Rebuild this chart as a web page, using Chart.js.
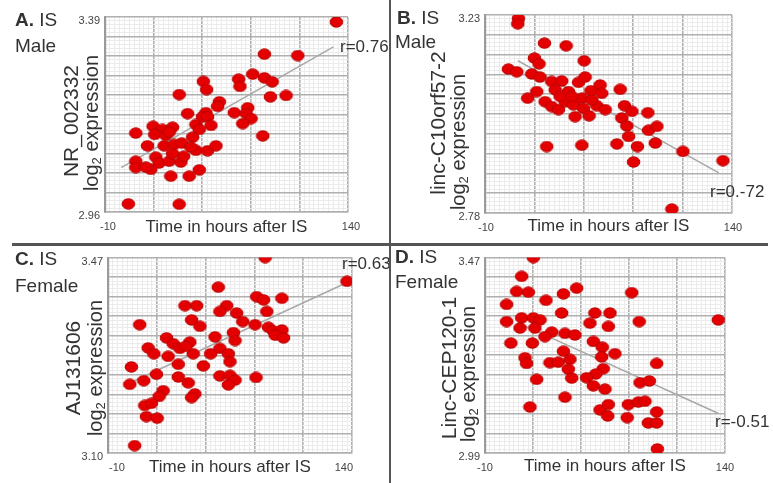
<!DOCTYPE html>
<html><head><meta charset="utf-8">
<script src="https://cdn.jsdelivr.net/npm/chart.js@4.4.0/dist/chart.umd.min.js"></script>
<style>
html,body{margin:0;padding:0;background:#fff;}
#wrap{position:relative;width:773px;height:483px;overflow:hidden;background:#fff;font-family:"Liberation Sans",Arial,sans-serif;color:#333;}
.pane{position:absolute;}
.pane canvas{display:block;}
.lbl{position:absolute;white-space:nowrap;line-height:22px;height:22px;}
.rot{position:absolute;white-space:nowrap;transform:translate(-50%,-50%) rotate(-90deg);line-height:1;}
.rot sub{font-size:65%;vertical-align:-0.25em;line-height:0;}
.sep{position:absolute;background:#555;z-index:5;}
</style></head><body>
<div id="wrap"></div>
<script>
// ---------- DATA ----------
const xTickLabels = ['-10', '140'];
const xTitle = 'Time in hours after IS';

// A. IS Male  — NR_002332
const aYTickLabels = ['2.96', '3.39'];
const aTime = [132.8, 88.4, 109.0, 81.2, 88.4, 93.2, 72.5, 73.3, 50.7, 52.7, 35.8, 92.1, 101.8, 60.6, 59.5, 41.0, 52.3, 50.2, 53.3, 69.8, 78.1, 77.1, 80.2, 75.0, 46.1, 48.2, 55.4, 19.7, 25.5, 31.7, 9.0, 20.7, 27.5, 29.6, 44.1, 87.4, 16.2, 26.5, 32.7, 37.4, 46.1, 53.3, 58.5, 21.4, 9.0, 23.4, 29.6, 36.8, 38.5, 9.0, 18.3, 48.2, 30.6, 42.0, 4.4, 35.8, 15.2, 31.7, 43.0];
const aExpr = [3.379, 3.308, 3.305, 3.264, 3.256, 3.247, 3.253, 3.237, 3.248, 3.230, 3.219, 3.214, 3.217, 3.203, 3.193, 3.177, 3.179, 3.170, 3.170, 3.179, 3.190, 3.177, 3.166, 3.155, 3.153, 3.142, 3.151, 3.149, 3.142, 3.147, 3.134, 3.131, 3.129, 3.136, 3.125, 3.128, 3.106, 3.106, 3.109, 3.112, 3.096, 3.095, 3.106, 3.081, 3.072, 3.068, 3.072, 3.070, 3.083, 3.058, 3.054, 3.053, 3.039, 3.039, 2.978, 2.977, 3.059, 3.089, 3.103];
const aFitTime = [0, 131];
const aFitExpr = [3.058, 3.324];

// B. IS Male — linc-C10orf57-2
const bYTickLabels = ['2.78', '3.23'];
const bTime = [10.3, 9.9, 26.1, 39.3, 20.0, 22.8, 50.2, 4.2, 9.3, 18.4, 23.4, 30.5, 36.6, 46.8, 50.8, 59.9, 21.4, 15.9, 32.6, 40.7, 54.3, 60.9, 72.1, 26.5, 30.5, 34.6, 38.6, 43.7, 48.8, 44.7, 49.8, 53.2, 57.9, 63.0, 74.7, 79.2, 88.9, 73.1, 76.1, 89.3, 94.4, 77.2, 70.1, 82.6, 93.4, 27.5, 48.8, 80.2, 110.2, 134.5, 103.5, 35.6, 42.7, 54.9];
const bExpr = [3.222, 3.210, 3.166, 3.160, 3.132, 3.119, 3.126, 3.107, 3.101, 3.096, 3.089, 3.079, 3.080, 3.077, 3.089, 3.071, 3.056, 3.041, 3.060, 3.056, 3.058, 3.052, 3.061, 3.033, 3.022, 3.015, 3.033, 3.026, 3.041, 2.999, 3.018, 3.001, 3.024, 3.015, 3.024, 3.011, 3.008, 2.996, 2.978, 2.968, 2.977, 2.954, 2.937, 2.931, 2.939, 2.931, 2.934, 2.896, 2.920, 2.899, 2.789, 3.045, 3.045, 3.037];
const bFitTime = [10, 132];
const bFitExpr = [3.126, 2.871];

// C. IS Female — AJ131606
const cYTickLabels = ['3.10', '3.47'];
const cTime = [86.6, 136.9, 57.8, 81.4, 85.6, 96.9, 37.3, 44.5, 63.0, 58.8, 69.1, 87.6, 9.5, 41.4, 46.5, 72.8, 80.4, 88.6, 91.7, 96.9, 92.8, 97.9, 67.1, 68.1, 55.8, 26.0, 30.1, 14.7, 18.2, 34.2, 40.3, 42.4, 27.0, 53.1, 58.8, 64.0, 4.4, 33.2, 48.6, 65.0, 3.4, 12.0, 19.8, 33.2, 39.3, 58.8, 65.0, 68.1, 64.0, 81.0, 23.9, 21.4, 43.4, 41.4, 12.6, 16.7, 13.6, 20.2, 6.4, 37.9];
const cExpr = [3.470, 3.425, 3.414, 3.396, 3.390, 3.393, 3.379, 3.379, 3.379, 3.368, 3.365, 3.368, 3.343, 3.352, 3.340, 3.349, 3.343, 3.338, 3.331, 3.333, 3.323, 3.318, 3.328, 3.313, 3.320, 3.318, 3.307, 3.299, 3.288, 3.298, 3.310, 3.288, 3.283, 3.288, 3.298, 3.288, 3.263, 3.268, 3.265, 3.273, 3.230, 3.237, 3.249, 3.244, 3.233, 3.246, 3.247, 3.238, 3.229, 3.243, 3.218, 3.207, 3.212, 3.205, 3.190, 3.194, 3.169, 3.166, 3.114, 3.302];
const cFitTime = [5, 135];
const cFitExpr = [3.235, 3.420];

// D. IS Female — Linc-CEP120-1
const dYTickLabels = ['2.99', '3.47'];
const dTime = [20.2, 12.9, 9.8, 17.1, 47.3, 39.0, 81.7, 3.5, 28.1, 3.5, 12.9, 20.2, 24.4, 11.9, 21.2, 37.9, 58.7, 68.1, 55.6, 67.1, 86.4, 135.8, 31.7, 27.5, 40.0, 46.2, 6.2, 19.6, 57.7, 63.3, 39.0, 43.1, 15.0, 16.0, 30.6, 35.8, 71.2, 62.9, 42.1, 44.2, 63.9, 59.2, 53.5, 57.7, 65.0, 22.3, 40.0, 18.1, 97.3, 86.9, 92.7, 79.6, 85.8, 90.0, 61.9, 67.1, 66.7, 78.9, 97.3, 92.1, 97.3, 97.7];
const dExpr = [3.470, 3.424, 3.387, 3.385, 3.395, 3.381, 3.384, 3.355, 3.365, 3.313, 3.322, 3.322, 3.317, 3.297, 3.297, 3.334, 3.334, 3.334, 3.309, 3.301, 3.313, 3.317, 3.287, 3.276, 3.284, 3.280, 3.260, 3.260, 3.264, 3.250, 3.240, 3.220, 3.224, 3.210, 3.212, 3.213, 3.234, 3.226, 3.196, 3.174, 3.197, 3.184, 3.175, 3.155, 3.147, 3.171, 3.127, 3.103, 3.210, 3.163, 3.167, 3.109, 3.115, 3.117, 3.096, 3.109, 3.081, 3.077, 3.091, 3.064, 3.064, 3.000];
const dFitTime = [11, 136];
const dFitExpr = [3.309, 3.087];

// ---------- LAYOUT / STYLE ----------
const panels = [
  {box:[0,0,390,243], pad:{left:0,top:17,right:42,bottom:5}, yW:105, xH:26, xAlign:'center', xOff:3,
   time:aTime, expr:aExpr, fitT:aFitTime, fitE:aFitExpr, yLab:aYTickLabels},
  {box:[392,0,381,243], pad:{left:0,top:15,right:41,bottom:6}, yW:93, xH:24, xAlign:'center', xOff:1,
   time:bTime, expr:bExpr, fitT:bFitTime, fitE:bFitExpr, yLab:bYTickLabels},
  {box:[0,246,390,237], pad:{left:0,top:11,right:38,bottom:5}, yW:108, xH:25, xAlign:'inner', xOff:1,
   time:cTime, expr:cExpr, fitT:cFitTime, fitE:cFitExpr, yLab:cYTickLabels},
  {box:[392,246,381,237], pad:{left:0,top:9,right:48,bottom:6}, yW:93, xH:24, xAlign:'center', xOff:0,
   time:dTime, expr:dExpr, fitT:dFitTime, fitE:dFitExpr, yLab:dYTickLabels}
];

const texts = [
  {html:'<b>A.</b> IS', x:15, y:20, size:19},
  {html:'Male', x:15, y:46, size:19},
  {html:'<b>B.</b> IS', x:397, y:18, size:19},
  {html:'Male', x:395, y:42, size:19},
  {html:'<b>C.</b> IS', x:15, y:259, size:19},
  {html:'Female', x:15, y:286, size:19},
  {html:'<b>D.</b> IS', x:395, y:257, size:19},
  {html:'Female', x:395, y:282, size:19},
  {html:'r=0.76', x:340, y:47, size:17},
  {html:'r=0.-72', x:710, y:192, size:17},
  {html:'r=0.63', x:342, y:264, size:17},
  {html:'r=-0.51', x:715, y:422, size:17}
];
const rotTexts = [
  {html:'NR_002332', x:70, y:121, size:21},
  {html:'log<sub>2</sub> expression', x:91, y:123, size:20},
  {html:'linc-C10orf57-2', x:437, y:123, size:21},
  {html:'log<sub>2</sub> expression', x:458, y:142, size:20},
  {html:'AJ131606', x:72, y:368, size:21},
  {html:'log<sub>2</sub> expression', x:95, y:368, size:20},
  {html:'Linc-CEP120-1', x:448, y:368, size:21},
  {html:'log<sub>2</sub> expression', x:468, y:374, size:20}
];

const FONT = '"Liberation Sans", Arial, sans-serif';
const MAJOR = '#b0b0b0', MINOR = '#ebebeb';

// ellipse marker
function makeMarker(){
  const c = document.createElement('canvas');
  c.width = 15; c.height = 12;
  const g = c.getContext('2d');
  g.beginPath();
  g.ellipse(7.5, 6, 6.3, 5.2, 0, 0, Math.PI*2);
  g.fillStyle = '#e40000';
  g.fill();
  g.lineWidth = 1;
  g.strokeStyle = '#b80000';
  g.stroke();
  return c;
}
const marker = makeMarker();

const wrap = document.getElementById('wrap');

panels.forEach(p => {
  const div = document.createElement('div');
  div.className = 'pane';
  div.style.left = p.box[0]+'px'; div.style.top = p.box[1]+'px';
  div.style.width = p.box[2]+'px'; div.style.height = p.box[3]+'px';
  const cv = document.createElement('canvas');
  cv.width = p.box[2]; cv.height = p.box[3];
  div.appendChild(cv);
  wrap.appendChild(div);

  const yMin = parseFloat(p.yLab[0]), yMax = parseFloat(p.yLab[1]);
  const xMin = parseFloat(xTickLabels[0]), xMax = parseFloat(xTickLabels[1]);
  const pts = p.time.map((t,i)=>({x:t, y:p.expr[i]}));
  const fit = p.fitT.map((t,i)=>({x:t, y:p.fitE[i]}));

  new Chart(cv, {
    type:'scatter',
    data:{datasets:[
      {data:pts, pointStyle:marker, pointRadius:7, pointHoverRadius:7, order:1},
      {data:fit, showLine:true, borderColor:'#a8a8a8', borderWidth:1.5, pointRadius:0, pointHoverRadius:0, fill:false, order:2}
    ]},
    options:{
      responsive:false, animation:false, devicePixelRatio:1, events:[],
      layout:{padding:p.pad, autoPadding:false},
      plugins:{legend:{display:false}, tooltip:{enabled:false}},
      scales:{
        x:{type:'linear', min:xMin, max:xMax,
          afterBuildTicks:(s)=>{const a=[];for(let i=0;i<=50;i++)a.push({value:xMin+(xMax-xMin)*i/50});s.ticks=a;},
          afterFit:(s)=>{s.height=p.xH;},
          grid:{drawTicks:false, color:(c)=>c.index%10===0?MAJOR:MINOR, lineWidth:(c)=>c.index%10===0?1.6:1},
          border:{display:true, color:'#b0b0b0', width:1.5},
          ticks:{autoSkip:false, maxRotation:0, minRotation:0, padding:8, align:p.xAlign, labelOffset:p.xOff,
            color:'#444', font:{family:FONT, size:11},
            callback:(v,i,arr)=> i===0?xTickLabels[0]:(i===arr.length-1?xTickLabels[1]:'')},
          title:{display:true, text:xTitle, color:'#333', padding:0, font:{family:FONT, size:17}}
        },
        y:{type:'linear', min:yMin, max:yMax,
          afterBuildTicks:(s)=>{const a=[];for(let i=0;i<=50;i++)a.push({value:yMin+(yMax-yMin)*i/50});s.ticks=a;},
          afterFit:(s)=>{s.width=p.yW;},
          grid:{drawTicks:false, color:(c)=>c.index%5===0?MAJOR:MINOR, lineWidth:(c)=>c.index%5===0?1.6:1},
          border:{display:true, color:'#9a9a9a', width:2.2},
          ticks:{autoSkip:false, padding:5, labelOffset:4, color:'#444', font:{family:FONT, size:11},
            callback:(v,i,arr)=> i===0?p.yLab[0]:(i===arr.length-1?p.yLab[1]:'')}
        }
      }
    }
  });
});

texts.forEach(t=>{
  const d=document.createElement('div');
  d.className='lbl'; d.innerHTML=t.html;
  d.style.left=t.x+'px'; d.style.top=(t.y-11)+'px'; d.style.fontSize=t.size+'px';
  wrap.appendChild(d);
});
rotTexts.forEach(t=>{
  const d=document.createElement('div');
  d.className='rot'; d.innerHTML=t.html;
  d.style.left=t.x+'px'; d.style.top=t.y+'px'; d.style.fontSize=t.size+'px';
  wrap.appendChild(d);
});
// separators
[[389,0,2,483],[12,243,756,3]].forEach(r=>{
  const d=document.createElement('div'); d.className='sep';
  d.style.left=r[0]+'px'; d.style.top=r[1]+'px'; d.style.width=r[2]+'px'; d.style.height=r[3]+'px';
  wrap.appendChild(d);
});
</script>
</body></html>
